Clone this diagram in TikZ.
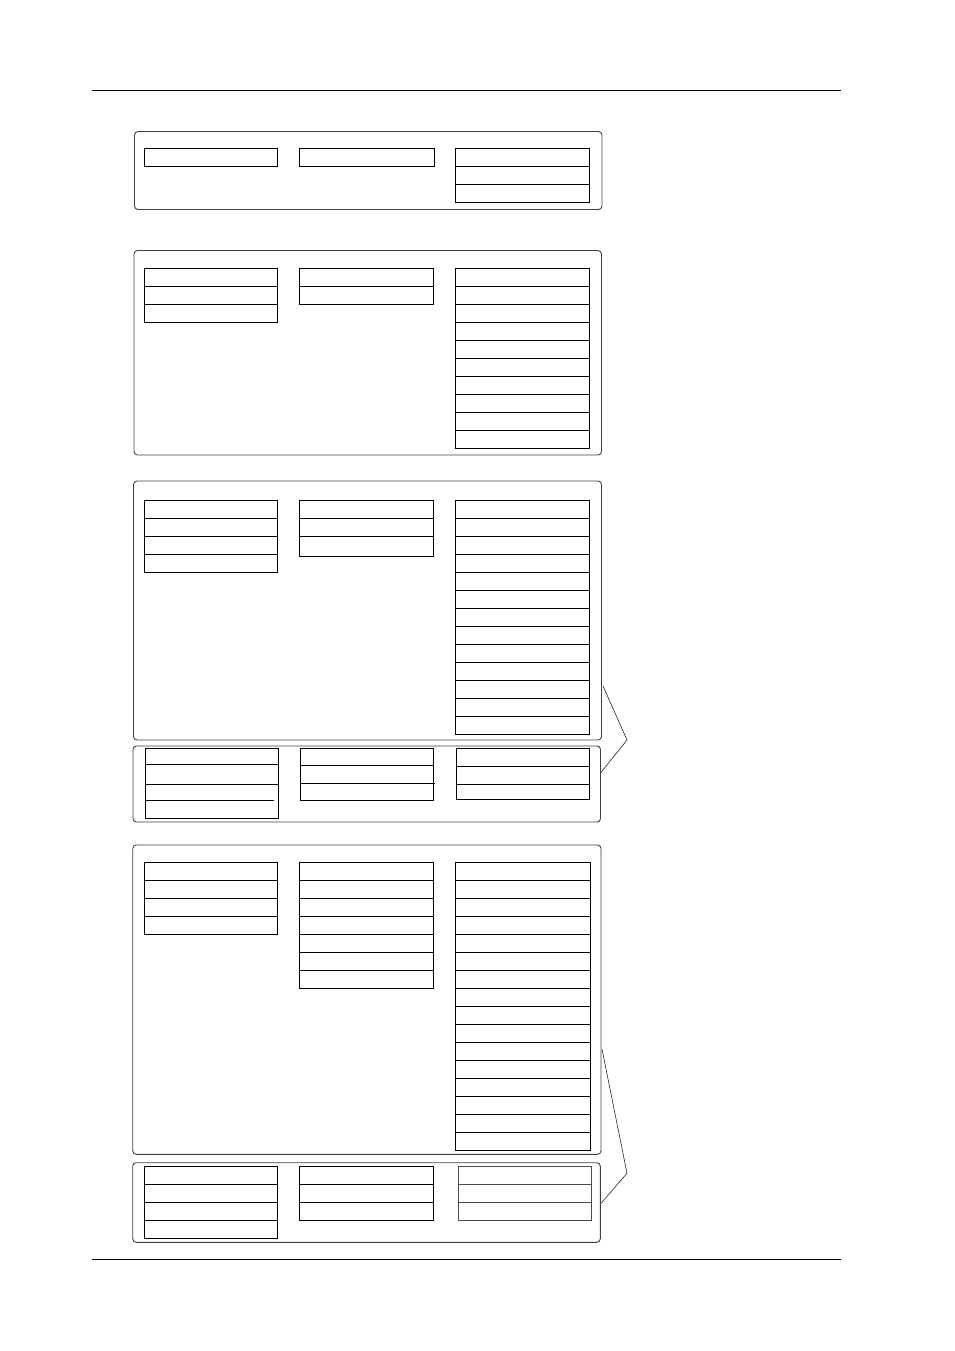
\documentclass[tikz,border=0pt]{standalone}
\begin{document}
\begin{tikzpicture}[x=1pt,y=-1pt,
  outerbox/.style={draw=black!75,line width=0.9pt,rounded corners=3.5pt},
  cell/.style={draw=black,line width=0.9pt},
  greycell/.style={draw=black!70,line width=0.9pt},
  bracket/.style={draw=black!85,line width=0.6pt},
  rule/.style={draw=black,line width=0.9pt}]
\useasboundingbox (0,0) rectangle (954,1351);
% stack of rows: #1 style, #2 x-left, #3 x-right, #4 top, #5 rows, #6 row height
\def\rowstack#1#2#3#4#5#6{%
  \path[#1] (#2,#4) rectangle (#3,{#4+#5*#6});
  \ifnum#5>1
    \foreach \k in {1,...,\numexpr#5-1\relax}{\path[#1] (#2,{#4+\k*#6}) -- (#3,{#4+\k*#6});}
  \fi}
% rules
\coordinate (hl) at (92,90.3); \coordinate (hr) at (841,90.3);
\coordinate (fl) at (92,1259); \coordinate (fr) at (841,1259);
\path[rule] (hl) -- (hr);
\path[rule] (fl) -- (fr);
% box 1
\path[outerbox] (134.5,131.5) rectangle (602,209.5);
\rowstack{cell}{144.5}{277.3}{148.3}{1}{18}
\rowstack{cell}{299.5}{434.3}{148.3}{1}{18}
\rowstack{cell}{455.5}{589.5}{148.3}{3}{18}
% box 2
\path[outerbox] (134,250.5) rectangle (601.5,455);
\rowstack{cell}{144.5}{277.3}{268.3}{3}{18}
\rowstack{cell}{299.5}{433.7}{268.3}{2}{18}
\rowstack{cell}{455.5}{589.5}{268.3}{10}{18}
% box 3
\path[outerbox] (133.5,481) rectangle (601.5,740);
\rowstack{cell}{144.5}{277.7}{500.3}{4}{18}
\path[cell] (299.5,500.3) rectangle (433.3,556.3);
\path[cell] (299.5,518.3) -- (433.3,518.3);
\path[cell] (299.5,536.3) -- (433.3,536.3);
\rowstack{cell}{455.5}{589.5}{500.3}{13}{18}
% box 3b
\path[outerbox] (133,746) rectangle (600.5,822);
\path[cell] (145.7,748.3) rectangle (278,818.3);
\path[cell] (145.7,764.3) -- (278,764.3);
\path[cell] (145.7,784.3) -- (278,784.3);
\path[cell] (145.7,800.3) -- (274,800.3);
\path[cell] (300.3,748.3) rectangle (433.3,800.3);
\path[cell] (300.3,765.3) -- (433.3,765.3);
\path[cell] (300.3,783.3) -- (435,783.3);
\path[cell] (456.3,748.3) rectangle (589.3,799.3);
\path[cell] (456.3,766.3) -- (589.3,766.3);
\path[cell] (456.3,784.3) -- (589.3,784.3);
% box 4
\path[outerbox] (132.7,845) rectangle (601,1154.3);
\rowstack{cell}{144.3}{277.7}{862.3}{4}{18}
\rowstack{cell}{299.3}{433.3}{862.3}{7}{18}
\rowstack{cell}{455.5}{590.3}{862.3}{16}{18}
% box 4b
\path[outerbox] (132.7,1162.7) rectangle (600.3,1242.3);
\rowstack{cell}{144.3}{277.7}{1166.3}{4}{18}
\rowstack{cell}{299.3}{433.3}{1166.3}{3}{18}
\rowstack{greycell}{458.3}{591.3}{1166}{3}{18}
% brackets
\coordinate (a1) at (603,686); \coordinate (a2) at (627,740); \coordinate (a3) at (600.5,773);
\coordinate (b1) at (602,1049); \coordinate (b2) at (627,1173.3); \coordinate (b3) at (601,1203.3);
\path[bracket] (a1) -- (a2) -- (a3);
\path[bracket] (b1) -- (b2) -- (b3);
\end{tikzpicture}
\end{document}
